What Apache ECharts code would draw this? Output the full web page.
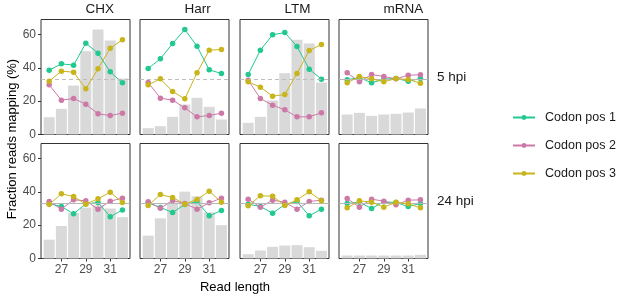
<!DOCTYPE html>
<html><head><meta charset="utf-8">
<script src="https://cdn.jsdelivr.net/npm/echarts@6/dist/echarts.min.js"></script>
<style>html,body{margin:0;padding:0;background:#fff}#c{width:617px;height:297px}</style>
</head><body><div id="c"></div>
<script>
const readLengths = [26, 27, 28, 29, 30, 31, 32];
const treatments = ['CHX', 'Harr', 'LTM', 'mRNA'];
const timepoints = ['5 hpi', '24 hpi'];
const seriesNames = ['Codon pos 1', 'Codon pos 2', 'Codon pos 3'];
const yTicks = [0, 20, 40, 60];
const xTicks = [27, 29, 31];

// 5 hpi
const chx5Bars  = [10.4, 15.4, 29.4, 50, 63, 56.4, 33.6];
const harr5Bars = [3.8, 5, 10.6, 18, 22, 16.6, 9];
const ltm5Bars  = [7, 10.6, 20.4, 36.8, 56.8, 54.6, 31.2];
const mrna5Bars = [12, 13, 11.2, 12, 12.4, 13.2, 15.6];
const chx5Pos1  = [38.6, 42.4, 41.6, 54.8, 48.8, 37.6, 31];
const harr5Pos1 = [39.6, 45.4, 54.6, 63, 53, 38.8, 36.6];
const ltm5Pos1  = [36, 50.6, 59.8, 61.2, 52.8, 39.2, 33.2];
const mrna5Pos1 = [32.8, 34.2, 31, 33.2, 33.6, 32, 33.6];
const chx5Pos2  = [29.8, 20.6, 21.6, 18.2, 12.4, 11.4, 12.8];
const harr5Pos2 = [31.2, 21.8, 20.6, 16, 10.6, 11.4, 12.8];
const ltm5Pos2  = [32.6, 21.6, 17.6, 14.8, 10.6, 10.6, 13];
const mrna5Pos2 = [37, 31.6, 36, 34.8, 33.4, 35.6, 35.8];
const chx5Pos3  = [32, 38, 37.4, 27.4, 39.4, 51.8, 56.8];
const harr5Pos3 = [29.8, 33.4, 25.8, 21.4, 37, 50.6, 51];
const ltm5Pos3  = [31.6, 28.4, 23, 24, 36.6, 50.4, 54];
const mrna5Pos3 = [31, 34.8, 33.4, 31.6, 33.6, 33, 30.8];

// 24 hpi
const chx24Bars  = [11.3, 19.5, 27.4, 30.5, 32, 30, 24.8];
const harr24Bars = [13.7, 24.1, 33.6, 40.1, 37.3, 27.7, 20];
const ltm24Bars  = [2.6, 4.8, 7, 7.8, 8, 6.8, 4.6];
const mrna24Bars = [1.8, 1.8, 1.8, 1.8, 1.8, 1.8, 2.2];
const chx24Pos1  = [33, 31.2, 26.8, 32.8, 33.6, 25.1, 29.1];
const harr24Pos1 = [33.4, 30.6, 27.6, 32.4, 34.2, 25.6, 28.8];
const ltm24Pos1  = [32.6, 31.2, 27.2, 32.4, 34.2, 25.6, 29.6];
const mrna24Pos1 = [33, 33.8, 30, 34, 33.6, 31.2, 33];
const chx24Pos2  = [34.2, 29.6, 35.2, 34.6, 29.6, 34.4, 36.2];
const harr24Pos2 = [34, 30.2, 34.8, 33, 29.6, 33.4, 36.2];
const ltm24Pos2  = [35.6, 30.8, 35, 33.8, 29.6, 34.2, 35];
const mrna24Pos2 = [36, 30.8, 35.6, 34.4, 32.2, 35, 35.2];
const chx24Pos3  = [32.4, 38.8, 37.2, 32.6, 35.8, 39.8, 33.6];
const harr24Pos3 = [31.8, 38.4, 36.6, 32.6, 35.4, 40.4, 33.8];
const ltm24Pos3  = [31.6, 37.6, 37.4, 31.8, 35.2, 40, 34.6];
const mrna24Pos3 = [30.4, 34.6, 33.8, 30.8, 33.8, 32.8, 30.4];

const expected = 100 / 3;

const panels = [
  [chx5Bars, chx5Pos1, chx5Pos2, chx5Pos3],
  [harr5Bars, harr5Pos1, harr5Pos2, harr5Pos3],
  [ltm5Bars, ltm5Pos1, ltm5Pos2, ltm5Pos3],
  [mrna5Bars, mrna5Pos1, mrna5Pos2, mrna5Pos3],
  [chx24Bars, chx24Pos1, chx24Pos2, chx24Pos3],
  [harr24Bars, harr24Pos1, harr24Pos2, harr24Pos3],
  [ltm24Bars, ltm24Pos1, ltm24Pos2, ltm24Pos3],
  [mrna24Bars, mrna24Pos1, mrna24Pos2, mrna24Pos3]
];
const dashedRef = [true, true, true, false, false, false, false, false];

const colors = ['#22C98F', '#CC79A7', '#C8B51C'];
const FONT = 'Liberation Sans, Arial, sans-serif';

const colLeft = [41, 140, 240, 339];
const colW = 89;
const rowTop = [19.5, 143.5];
const rowH = 115;

const grid = [], xAxis = [], yAxis = [], series = [];
panels.forEach((p, i) => {
  const r = Math.floor(i / 4), c = i % 4;
  grid.push({left: colLeft[c], top: rowTop[r], width: colW, height: rowH,
    show: true, borderColor: '#333333', borderWidth: 1, backgroundColor: '#ffffff', containLabel: false});
  xAxis.push({type: 'value', gridIndex: i, min: 25.33, max: 32.62,
    axisLine: {show: false}, splitLine: {show: false},
    axisTick: {show: r === 1, length: 3, lineStyle: {color: '#333333'}, customValues: xTicks},
    axisLabel: {show: r === 1, color: '#4D4D4D', fontSize: 12, fontFamily: FONT, margin: 5, customValues: xTicks}
  });
  yAxis.push({type: 'value', gridIndex: i, min: 0, max: 69,
    axisLine: {show: false}, splitLine: {show: false},
    axisTick: {show: c === 0, length: 3, lineStyle: {color: '#333333'}, customValues: yTicks},
    axisLabel: {show: c === 0, color: '#4D4D4D', fontSize: 12, fontFamily: FONT, margin: 5, customValues: yTicks}
  });
  series.push({type: 'bar', xAxisIndex: i, yAxisIndex: i, barWidth: 11, silent: true,
    itemStyle: {color: '#D9D9D9'}, data: readLengths.map((x, k) => [x, p[0][k]]),
    markLine: {silent: true, symbol: 'none', label: {show: false},
      lineStyle: {color: dashedRef[i] ? '#BEBEBE' : '#B8B8B8', type: dashedRef[i] ? [4, 3] : 'solid', width: 1.1},
      data: [{yAxis: expected}], animation: false}
  });
  for (let s = 0; s < 3; s++) {
    series.push({type: 'line', name: seriesNames[s], xAxisIndex: i, yAxisIndex: i,
      symbol: 'circle', symbolSize: 5.5, color: colors[s],
      lineStyle: {width: 1, color: colors[s]}, itemStyle: {color: colors[s]},
      data: readLengths.map((x, k) => [x, p[s + 1][k]]), z: 3 + s});
  }
});

const graphic = [];
treatments.forEach((t, c) => {
  graphic.push({type: 'text', left: colLeft[c] + colW / 2, top: 2, style: {text: t, font: '13.5px ' + FONT, fill: '#1A1A1A', textAlign: 'center'}});
});
timepoints.forEach((t, r) => {
  graphic.push({type: 'text', x: 437, y: rowTop[r] + rowH / 2, style: {text: t, font: '13.5px ' + FONT, fill: '#1A1A1A', textAlign: 'left', textVerticalAlign: 'middle'}});
});
graphic.push({type: 'text', x: 12, y: 139, rotation: Math.PI / 2,
  style: {text: 'Fraction reads mapping (%)', font: '13px ' + FONT, fill: '#000', textAlign: 'center', textVerticalAlign: 'middle'}});
graphic.push({type: 'text', x: 235, y: 287, style: {text: 'Read length', font: '13px ' + FONT, fill: '#000', textAlign: 'center', textVerticalAlign: 'middle'}});

const chart = echarts.init(document.getElementById('c'), null, {renderer: 'canvas'});
chart.setOption({
  animation: false,
  backgroundColor: '#ffffff',
  grid, xAxis, yAxis, series, graphic,
  legend: {data: seriesNames, orient: 'vertical', left: 512, top: 111, padding: 0, itemWidth: 22, itemHeight: 6, itemGap: 15,
    textStyle: {fontSize: 12.5, fontFamily: FONT, color: '#1A1A1A', padding: [0, 0, 0, 5]}, selectedMode: false}
});
</script></body></html>
